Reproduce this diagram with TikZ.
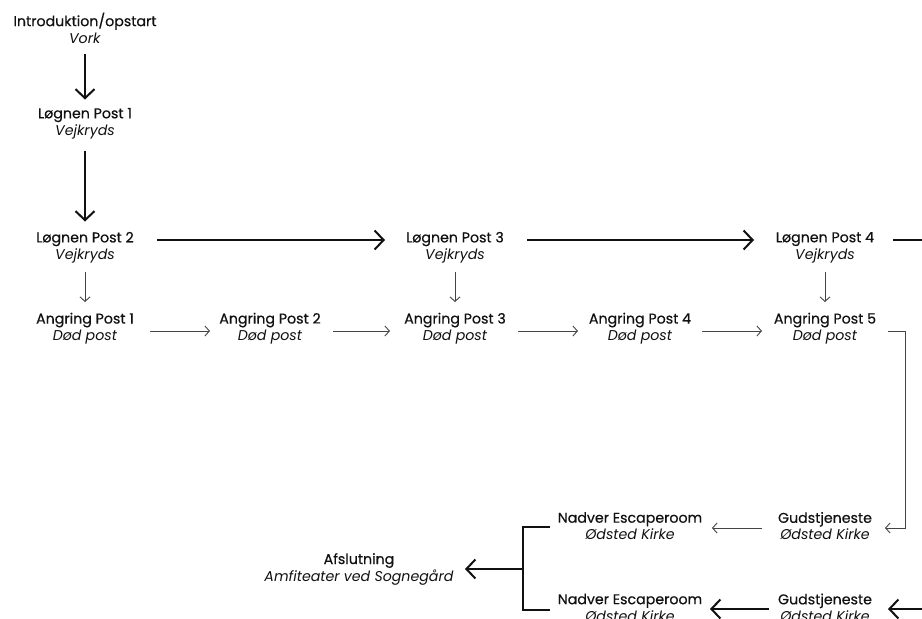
\documentclass[tikz,border=0pt]{standalone}
\usepackage{fontspec}
\setmainfont{Poppins}
\newfontfamily\titlefont{Poppins}[FakeBold=0.5]
\usetikzlibrary{arrows.meta,calc}
\definecolor{ink}{HTML}{111111}
\definecolor{thinink}{HTML}{444444}
\newcommand{\post}[2]{{\titlefont #1}\\\textit{#2}}
\begin{document}
\begin{tikzpicture}[x=1pt,y=-1pt,
  post/.style={align=center,inner sep=0pt,text=ink,font=\fontsize{14.2}{17}\selectfont},
  bigarrow/.style={line width=2pt,draw=ink,-{Straight Barb[length=9pt,width=19pt,line width=2pt]}},
  bigline/.style={line width=2pt,draw=ink},
  thinarrow/.style={line width=0.9pt,draw=thinink,-{Straight Barb[length=4.5pt,width=10pt,line width=0.9pt]}},
  thinline/.style={line width=0.9pt,draw=thinink}
]
\clip (0,0) rectangle (922,619);
\fill[white] (0,0) rectangle (922,619);

\node[post] (intro) at (85,28) {\post{Introduktion/opstart}{Vork}};
\node[post] (l1) at (85,123.5) {\post{Løgnen Post 1}{Vejkryds}};
\node[post] (l2) at (85,247.5) {\post{Løgnen Post 2}{Vejkryds}};
\node[post] (l3) at (455,247.5) {\post{Løgnen Post 3}{Vejkryds}};
\node[post] (l4) at (825,247.5) {\post{Løgnen Post 4}{Vejkryds}};
\node[post] (a1) at (85,328.5) {\post{Angring Post 1}{Død post}};
\node[post] (a2) at (270,328.5) {\post{Angring Post 2}{Død post}};
\node[post] (a3) at (455,328.5) {\post{Angring Post 3}{Død post}};
\node[post] (a4) at (640,328.5) {\post{Angring Post 4}{Død post}};
\node[post] (a5) at (825,328.5) {\post{Angring Post 5}{Død post}};
\node[post] (g1) at (825,526) {\post{Gudstjeneste}{Ødsted Kirke}};
\node[post] (n1) at (630,526) {\post{Nadver Escaperoom}{Ødsted Kirke}};
\node[post] (g2) at (825,607.5) {\post{Gudstjeneste}{Ødsted Kirke}};
\node[post] (n2) at (630,607.5) {\post{Nadver Escaperoom}{Ødsted Kirke}};
\node[post] (af) at (359,569) {\post{Afslutning}{Amfiteater ved Sognegård}};

\coordinate (offright) at (935,240);
\coordinate (offright2) at (935,609);
\coordinate (junction) at (523,569);

% vertical thick
\draw[bigarrow] ($(intro.center)+(0,26)$) -- ($(l1.center)+(0,-24)$);
\draw[bigarrow] ($(l1.center)+(0,27)$) -- ($(l2.center)+(0,-26)$);
% horizontal thick
\draw[bigarrow] ($(l2.center)+(72,-7.5)$) -- ($(l3.center)+(-70,-7.5)$);
\draw[bigarrow] ($(l3.center)+(72,-7.5)$) -- ($(l4.center)+(-71,-7.5)$);
\draw[bigline] ($(l4.center)+(68,-7.5)$) -- (offright);
% vertical thin
\draw[thinarrow] ($(l2.center)+(0,24.5)$) -- ($(a1.center)+(0,-26.5)$);
\draw[thinarrow] ($(l3.center)+(0,24.5)$) -- ($(a3.center)+(0,-26.5)$);
\draw[thinarrow] ($(l4.center)+(0,24.5)$) -- ($(a5.center)+(0,-26.5)$);
% horizontal thin
\draw[thinarrow] ($(a1.center)+(65,2.5)$) -- ($(a2.center)+(-60,2.5)$);
\draw[thinarrow] ($(a2.center)+(63,2.5)$) -- ($(a3.center)+(-65,2.5)$);
\draw[thinarrow] ($(a3.center)+(63,2.5)$) -- ($(a4.center)+(-62,2.5)$);
\draw[thinarrow] ($(a4.center)+(62,2.5)$) -- ($(a5.center)+(-63,2.5)$);
% corner from Angring 5 to Gudstjeneste
\draw[thinarrow] ($(a5.center)+(63,2.5)$) -| ($(g1.center)+(80,2)$) -- ($(g1.center)+(60,2)$);
\draw[thinarrow] ($(g1.center)+(-63,2)$) -- ($(n1.center)+(82,2)$);
% bottom thick
\draw[bigarrow] (offright2) -- ($(g2.center)+(63,1.5)$);
\draw[bigarrow] ($(g2.center)+(-56,1.5)$) -- ($(n2.center)+(80,1.5)$);
% bracket
\draw[bigline] ($(n1.center)+(-80,1)$) -| (junction) |- ($(n2.center)+(-80,2.5)$);
\draw[bigarrow] (junction) -- ($(af.center)+(106,0)$);
\end{tikzpicture}
\end{document}
